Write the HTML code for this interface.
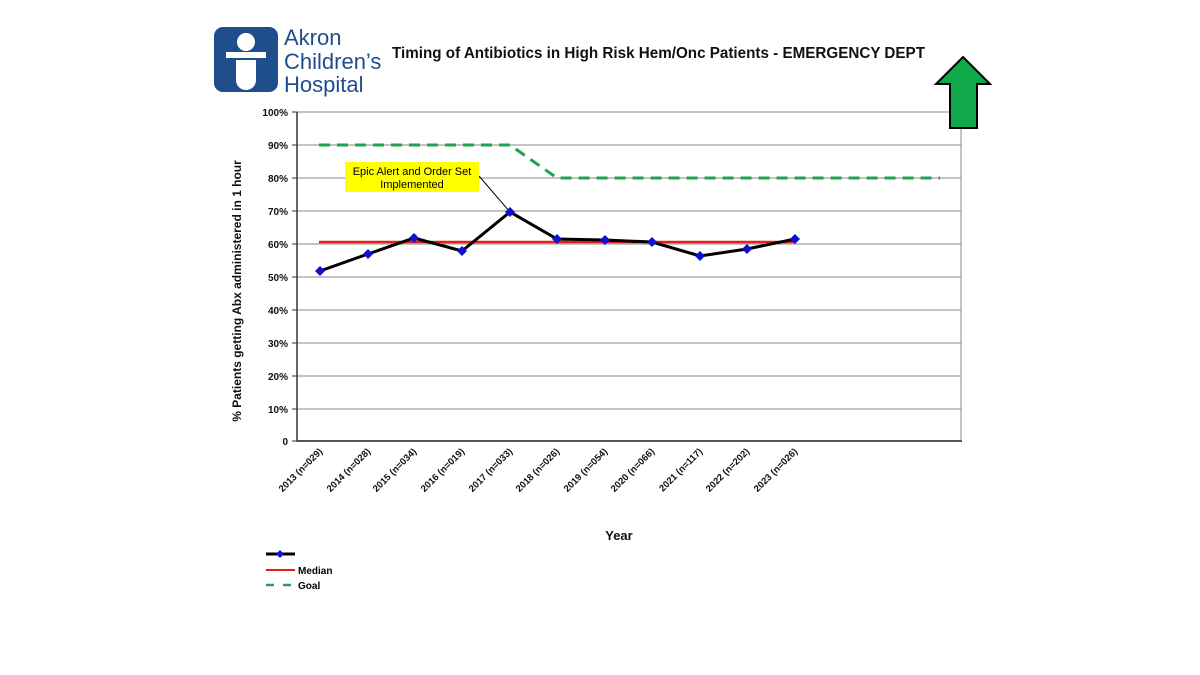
<!DOCTYPE html>
<html><head><meta charset="utf-8"><style>
html,body{margin:0;padding:0;background:#fff}
svg{display:block}
text{font-family:"Liberation Sans",Arial,sans-serif}
</style></head><body>
<svg width="1200" height="675" viewBox="0 0 1200 675" xmlns="http://www.w3.org/2000/svg">
<!-- logo -->
<rect x="214" y="27" width="64" height="65" rx="9" fill="#1f4e8c"/>
<circle cx="246" cy="42" r="9" fill="#fff"/>
<rect x="226" y="52" width="40" height="6" fill="#fff"/>
<path d="M236 60 h20 v20 a10 10 0 0 1 -20 0 z" fill="#fff"/>
<g fill="#1f4e8c" font-size="22">
<text x="284" y="45">Akron</text>
<text x="284" y="69">Children’s</text>
<text x="284" y="92">Hospital</text>
</g>
<text x="392" y="58" font-size="15.5" font-weight="bold" fill="#111" textLength="533" lengthAdjust="spacingAndGlyphs">Timing of Antibiotics in High Risk Hem/Onc Patients - EMERGENCY DEPT</text>
<!-- gridlines -->
<g stroke="#888" stroke-width="1">
<line x1="297" y1="112" x2="961" y2="112"/>
<line x1="297" y1="145" x2="961" y2="145"/>
<line x1="297" y1="178" x2="961" y2="178"/>
<line x1="297" y1="211" x2="961" y2="211"/>
<line x1="297" y1="244" x2="961" y2="244"/>
<line x1="297" y1="277" x2="961" y2="277"/>
<line x1="297" y1="310" x2="961" y2="310"/>
<line x1="297" y1="343" x2="961" y2="343"/>
<line x1="297" y1="376" x2="961" y2="376"/>
<line x1="297" y1="409" x2="961" y2="409"/>
<line x1="961" y1="112" x2="961" y2="441"/>
</g>
<!-- arrow -->
<path d="M963 57 L990 84 L977 84 L977 128 L950 128 L950 84 L936 84 Z" fill="#10a94a" stroke="#000" stroke-width="2"/>
<line x1="297" y1="112" x2="297" y2="442" stroke="#333" stroke-width="1.5"/>
<line x1="297" y1="441" x2="962" y2="441" stroke="#555" stroke-width="2"/>
<g stroke="#333"><line x1="292" y1="112" x2="297" y2="112"/><line x1="292" y1="145" x2="297" y2="145"/><line x1="292" y1="178" x2="297" y2="178"/><line x1="292" y1="211" x2="297" y2="211"/><line x1="292" y1="244" x2="297" y2="244"/><line x1="292" y1="277" x2="297" y2="277"/><line x1="292" y1="310" x2="297" y2="310"/><line x1="292" y1="343" x2="297" y2="343"/><line x1="292" y1="376" x2="297" y2="376"/><line x1="292" y1="409" x2="297" y2="409"/><line x1="292" y1="441" x2="297" y2="441"/></g>
<g font-size="10" font-weight="bold" text-anchor="end" fill="#111">
<text x="288" y="116">100%</text><text x="288" y="149">90%</text><text x="288" y="182">80%</text><text x="288" y="215">70%</text><text x="288" y="248">60%</text><text x="288" y="281">50%</text><text x="288" y="314">40%</text><text x="288" y="347">30%</text><text x="288" y="380">20%</text><text x="288" y="413">10%</text><text x="288" y="445">0</text>
</g>
<text transform="translate(241,291) rotate(-90)" font-size="12" font-weight="bold" text-anchor="middle" fill="#111">% Patients getting Abx administered in 1 hour</text>
<!-- goal -->
<polyline points="319,145 510,145 557,178 940,178" fill="none" stroke="#22a150" stroke-width="3" stroke-dasharray="11,7"/>
<!-- median -->
<line x1="319" y1="242" x2="795" y2="242" stroke="#e0201b" stroke-width="2.5"/>
<!-- annotation -->
<line x1="479" y1="176" x2="510" y2="212" stroke="#000" stroke-width="1"/>
<rect x="345" y="162" width="134" height="30" fill="#ffff00"/>
<text x="412" y="175" font-size="11" text-anchor="middle">Epic Alert and Order Set</text>
<text x="412" y="188" font-size="11" text-anchor="middle">Implemented</text>
<!-- data -->
<polyline points="320,271 368,254 414,238 462,251 510,212 557,239 605,240 652,242 700,256 747,249 795,239" fill="none" stroke="#000" stroke-width="3"/>
<g fill="#1010d0">
<path d="M320 266l5 5-5 5-5-5z"/><path d="M368 249l5 5-5 5-5-5z"/><path d="M414 233l5 5-5 5-5-5z"/><path d="M462 246l5 5-5 5-5-5z"/><path d="M510 207l5 5-5 5-5-5z"/><path d="M557 234l5 5-5 5-5-5z"/><path d="M605 235l5 5-5 5-5-5z"/><path d="M652 237l5 5-5 5-5-5z"/><path d="M700 251l5 5-5 5-5-5z"/><path d="M747 244l5 5-5 5-5-5z"/><path d="M795 234l5 5-5 5-5-5z"/>
</g>
<!-- x labels -->
<g font-size="9.5" font-weight="bold" text-anchor="end" fill="#111">
<text transform="translate(323,452) rotate(-45)">2013 (n=029)</text>
<text transform="translate(371,452) rotate(-45)">2014 (n=028)</text>
<text transform="translate(417,452) rotate(-45)">2015 (n=034)</text>
<text transform="translate(465,452) rotate(-45)">2016 (n=019)</text>
<text transform="translate(513,452) rotate(-45)">2017 (n=033)</text>
<text transform="translate(560,452) rotate(-45)">2018 (n=026)</text>
<text transform="translate(608,452) rotate(-45)">2019 (n=054)</text>
<text transform="translate(655,452) rotate(-45)">2020 (n=066)</text>
<text transform="translate(703,452) rotate(-45)">2021 (n=117)</text>
<text transform="translate(750,452) rotate(-45)">2022 (n=202)</text>
<text transform="translate(798,452) rotate(-45)">2023 (n=026)</text>
</g>
<text x="619" y="540" font-size="13" font-weight="bold" text-anchor="middle" fill="#111">Year</text>
<!-- legend -->
<line x1="266" y1="554" x2="295" y2="554" stroke="#000" stroke-width="3"/>
<path d="M280 550l4 4-4 4-4-4z" fill="#1010d0"/>
<line x1="266" y1="570" x2="295" y2="570" stroke="#e0201b" stroke-width="2"/>
<text x="298" y="574" font-size="10" font-weight="bold">Median</text>
<line x1="266" y1="585" x2="295" y2="585" stroke="#22a150" stroke-width="2.5" stroke-dasharray="8,9"/>
<text x="298" y="589" font-size="10" font-weight="bold">Goal</text>
</svg>
</body></html>
